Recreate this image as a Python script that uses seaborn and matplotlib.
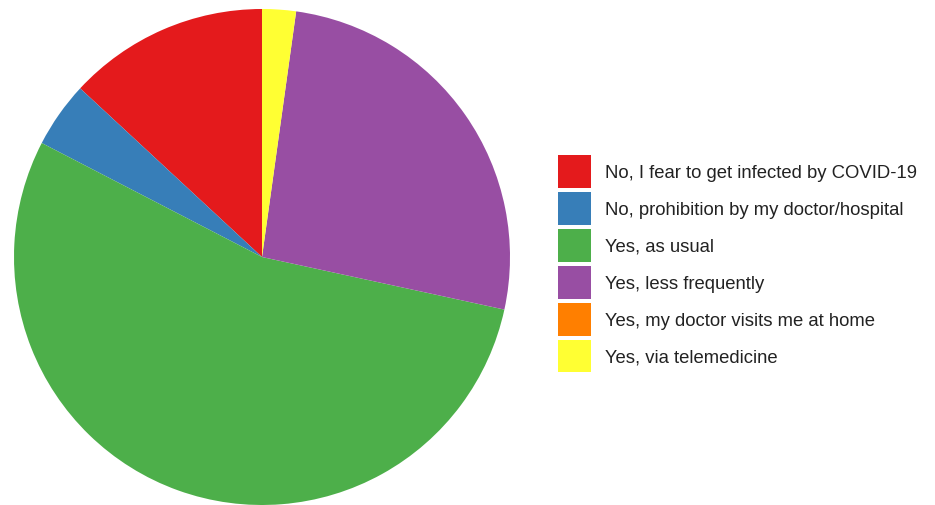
import matplotlib
matplotlib.use("Agg")
import matplotlib.pyplot as plt
import seaborn as sns

categories = [
    "No, I fear to get infected by COVID-19",
    "No, prohibition by my doctor/hospital",
    "Yes, as usual",
    "Yes, less frequently",
    "Yes, my doctor visits me at home",
    "Yes, via telemedicine",
]
shares = [13.1, 4.3, 54.2, 26.2, 0.0, 2.2]

sns.set_theme(style="white")
plt.rcParams['font.family'] = ['Liberation Sans', 'DejaVu Sans']
colors = sns.color_palette("Set1", len(categories))

W, H = 935, 506
fig = plt.figure(figsize=(W / 100, H / 100), dpi=100)
# pie centre ~ (262, 258) px, radius ~ 248 px
ax = fig.add_axes([14 / W, 0 / H, 496 / W, 496 / H])
wedges, _ = ax.pie(shares, colors=colors, startangle=90, counterclock=True,
                   wedgeprops=dict(linewidth=0))
ax.set_xlim(-1, 1)
ax.set_ylim(-1, 1)
ax.set_aspect('equal')
ax.axis('off')

fs = 13.3
fig.legend(wedges, categories, loc='upper left',
           bbox_to_anchor=(558 / W, 1 - 156 / H), frameon=False,
           fontsize=fs, handlelength=1.79, handleheight=2.36,
           labelspacing=0.22, handletextpad=0.77,
           borderpad=0, borderaxespad=0, labelcolor='#222222')

fig.savefig("out.png", dpi=100)
